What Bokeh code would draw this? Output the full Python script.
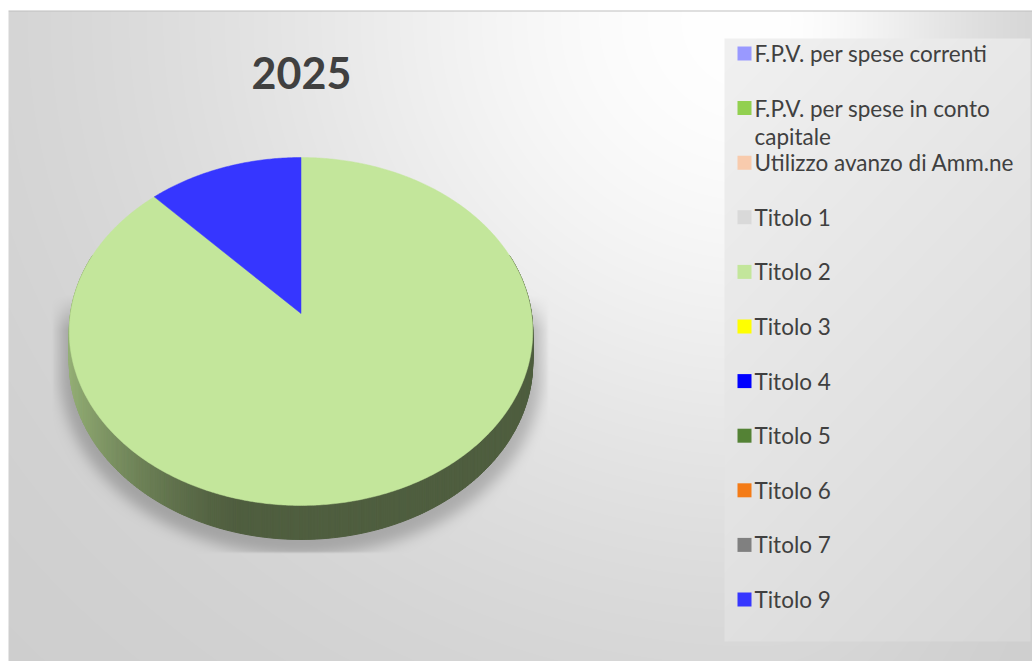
import textwrap
import numpy as np
from bokeh.plotting import figure
from bokeh.models import Range1d, LinearColorMapper
from bokeh.embed import file_html
from bokeh.resources import INLINE
from bokeh.core.properties import value

# ---------------- data ----------------
TITLE = "2025"
categories = [
    "F.P.V. per spese correnti",
    "F.P.V. per spese in conto capitale",
    "Utilizzo avanzo di Amm.ne",
    "Titolo 1",
    "Titolo 2",
    "Titolo 3",
    "Titolo 4",
    "Titolo 5",
    "Titolo 6",
    "Titolo 7",
    "Titolo 9",
]
values = [0, 0, 0, 0, 88.0, 0, 0, 0, 0, 0, 12.0]
colors = ["#9999ff", "#92d050", "#f8cbad", "#d9d9d9", "#c3e69b", "#ffff00",
          "#0000ff", "#548235", "#f47b16", "#808080", "#3636ff"]

# ---------------- figure ----------------
W, H = 1032, 661
X0, Y0 = 0, 0
p = figure(width=W, height=H, x_range=Range1d(X0, X0 + W), y_range=Range1d(Y0 + H, Y0),
           output_backend="svg", toolbar_location=None, min_border=0)
p.axis.visible = False
p.grid.visible = False
p.outline_line_color = None
p.background_fill_color = "white"
p.border_fill_color = "white"

# pie geometry (perspective disc)
CX, CY = 300.5, 313.0
RX, AY, B, DEPTH = 230.5, 172.1, 0.1034, 30.5


def proj(a, drop=0.0):
    xd = np.sin(a)
    zd = -np.cos(a)
    den = 1 - B * zd
    return CX + RX * xd / den, CY + (AY * zd + drop) / den


# ---------------- background (gradient + legend box + shadow) ----------------
xs = np.arange(W) + X0 + 0.5
ys = np.arange(H) + Y0 + 0.5
XX, YY = np.meshgrid(xs, ys)
dx = XX - 760.0
dx = np.where(dx > 0, dx * 2.6, dx)
dy = (YY - 20.0) * 1.1
d = np.hypot(dx, dy)
bg = 255 - 50 * (1 - np.exp(-(d / 560.0) ** 2))


def inside(Ys, grow):
    v = (Ys - CY) / (AY + grow)
    zd = v / (1 + B * v)
    den = 1 - B * zd
    xd = (XX - CX) * den / (RX + grow)
    return xd ** 2 + zd ** 2 <= 1


sil = np.zeros(XX.shape, bool)
for dr in np.linspace(0, 40, 21):
    sil |= inside(YY - dr, 9.0)


def box_blur(a, r, axis):
    k = 2 * r + 1
    pad = [(0, 0), (0, 0)]
    pad[axis] = (r + 1, r)
    ap = np.pad(a, pad, mode="edge")
    c = np.cumsum(ap, axis=axis)
    if axis == 0:
        return (c[k:] - c[:-k]) / k
    return (c[:, k:] - c[:, :-k]) / k


sh = sil.astype(float)
for _ in range(3):
    sh = box_blur(sh, 6, 0)
    sh = box_blur(sh, 6, 1)
ramp_top = np.clip((YY - 295.0) / 35.0, 0, 1)
ramp_l = np.clip((XX - 51.0) / 3.0, 0, 1)
ramp_r = np.clip((549.0 - XX) / 3.0, 0, 1)
ramp_b = np.clip((553.0 - YY) / 2.0, 0, 1)
bg = bg - 48 * sh * ramp_top * ramp_l * ramp_r * ramp_b

leg = (XX >= 724) & (XX <= 1030) & (YY >= 38) & (YY <= 641)
lg = 241 - 26 * (0.35 * (XX - 724) / 306 + 0.65 * (YY - 38) / 603)
bg = np.where(leg, lg, bg)
bg = np.where((XX < 8) | (YY < 10), 255, bg)
bg = np.where((YY >= 10) & (YY < 11.5) & (XX >= 8), 192, bg)

img = np.clip(bg, 0, 255).astype(np.uint8)
gray = ["#%02x%02x%02x" % (i, i, i) for i in range(256)]
cm = LinearColorMapper(palette=gray, low=0, high=256)
p.image(image=[img], x=X0, y=Y0, dw=W, dh=H, color_mapper=cm)

# ---------------- pie ----------------
total = float(sum(values))
fracs = [v / total for v in values]
starts = np.cumsum([0.0] + fracs[:-1]) * 2 * np.pi
ends = starts + np.array(fracs) * 2 * np.pi


def owner(a):
    for i, (s, e) in enumerate(zip(starts, ends)):
        if fracs[i] > 0 and s <= a < e:
            return i
    return len(values) - 1


def hex2rgb(h):
    h = h.lstrip("#")
    return np.array([int(h[i:i + 2], 16) for i in (0, 2, 4)], float)


# side wall strips
N = 720
sx, sy, sc = [], [], []
for k in range(N):
    a0 = 2 * np.pi * k / N
    a1 = 2 * np.pi * (k + 1) / N
    am = 0.5 * (a0 + a1)
    if -np.cos(am) < -0.35:
        continue
    i = owner(am)
    xd = np.sin(am)
    f = 0.41 + 0.36 * np.clip((-xd - 0.25) / 0.75, 0, 1) ** 1.3
    rgb = np.clip(hex2rgb(colors[i]) * f, 0, 255).astype(int)
    col = "#%02x%02x%02x" % tuple(rgb)
    xa, ya = proj(np.array([a0, a1, a1, a0]), np.array([0, 0, DEPTH, DEPTH]))
    sx.append(list(xa))
    sy.append(list(ya))
    sc.append(col)
p.patches(sx, sy, fill_color=sc, line_color=sc, line_width=1)

# top face slices
tx, ty, tc = [], [], []
for i, fr in enumerate(fracs):
    if fr <= 0:
        continue
    n = max(8, int(720 * fr))
    aa = np.linspace(starts[i], ends[i], n)
    ex, ey = proj(aa)
    tx.append([CX] + list(ex))
    ty.append([CY] + list(ey))
    tc.append(colors[i])
p.patches(tx, ty, fill_color=tc, line_color=tc, line_width=0.5)

# ---------------- title ----------------
p.text(x=[301], y=[72], text=[TITLE], text_font=value("Lato"), text_font_style="bold",
       text_font_size="43px", text_color="#404040", text_align="center", text_baseline="middle")

# ---------------- legend ----------------
ROW0, ROWSTEP, LINESTEP = 53.0, 54.6, 28.0
mx, my, mc = [], [], []
lx, ly, lt = [], [], []
for i, (cat, col) in enumerate(zip(categories, colors)):
    yc = ROW0 + i * ROWSTEP
    mx.append(744)
    my.append(yc)
    mc.append(col)
    for j, line in enumerate(textwrap.wrap(cat, 26)):
        lx.append(754)
        ly.append(yc + j * LINESTEP)
        lt.append(line)
p.scatter(mx, my, marker="square", size=14, fill_color=mc, line_color=None)
p.text(x=lx, y=ly, text=lt, text_font=value("Lato"), text_font_size="22.5px",
       text_color="#404040", text_baseline="middle", text_align="left")

open("out.html", "w").write(file_html(p, INLINE))
